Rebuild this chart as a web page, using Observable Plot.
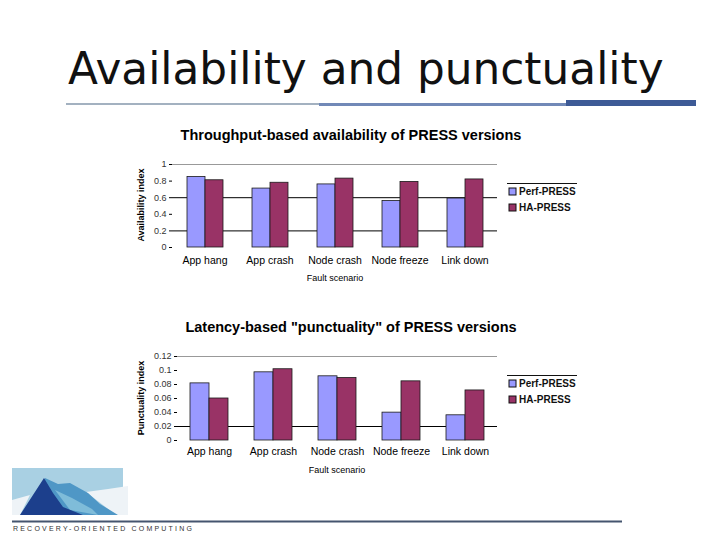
<!DOCTYPE html>
<html><head><meta charset="utf-8">
<script src="https://cdn.jsdelivr.net/npm/d3@7"></script>
<script src="https://cdn.jsdelivr.net/npm/@observablehq/plot@0.6"></script>
<style>
body{margin:0;background:#fff;}
#slide{position:relative;width:720px;height:540px;overflow:hidden;background:#fff;font-family:"Liberation Sans",Arial,sans-serif;color:#000;}
.abs{position:absolute;}
#title{left:68px;top:47px;font-family:"DejaVu Sans",sans-serif;font-size:43.8px;line-height:44px;white-space:nowrap;color:#111;}
.ctitle{left:0;width:702px;text-align:center;font-weight:bold;font-size:14.5px;line-height:16px;white-space:nowrap;}
.ylab{font-weight:bold;font-size:9px;line-height:10px;white-space:nowrap;transform:translate(-50%,-50%) rotate(-90deg);}
.xlab{font-size:9px;line-height:10px;white-space:nowrap;transform:translate(-50%,-50%);}
.legline{height:0;border-top:1.5px solid #111;width:70px;left:507px;}
.leg{left:509px;}
.leg *{font-family:"Liberation Sans",Arial,sans-serif !important;font-weight:bold !important;font-size:10px !important;line-height:15px !important;color:#111;}
.leg svg{stroke:#111;stroke-width:1px;margin-right:3px !important;}
.leg > div{margin:0 !important;}
.chart{left:0;}
</style></head><body>
<div id="slide">
  <div id="title" class="abs">Availability and punctuality</div>
  <div class="abs" style="left:66px;top:103px;width:253px;height:2px;background:#a3b1c0"></div>
  <div class="abs" style="left:319px;top:103px;width:247px;height:3px;background:#7189b7"></div>
  <div class="abs" style="left:566px;top:100px;width:130px;height:6px;background:#3d5a96"></div>

  <div class="abs ctitle" style="top:127px">Throughput-based availability of PRESS versions</div>
  <div id="c1" class="abs chart" style="top:150px"></div>
  <div class="abs ylab" style="left:141px;top:205px">Availability index</div>
  <div class="abs xlab" style="left:335px;top:278px">Fault scenario</div>
  <div class="abs legline" style="top:183px"></div>
  <div id="leg1" class="abs leg" style="top:184px"></div>

  <div class="abs ctitle" style="top:319px">Latency-based "punctuality" of PRESS versions</div>
  <div id="c2" class="abs chart" style="top:342px"></div>
  <div class="abs ylab" style="left:141px;top:398px">Punctuality index</div>
  <div class="abs xlab" style="left:337px;top:470px">Fault scenario</div>
  <div class="abs legline" style="top:375px"></div>
  <div id="leg2" class="abs leg" style="top:376px"></div>

  <svg class="abs" style="left:0;top:460px" width="720" height="80">
    <rect x="12" y="8" width="111" height="47" fill="#a9d0e3"/>
    <polygon points="12,40 30,35 20,55 12,55" fill="#eef3f7"/>
    <polygon points="86,32 108,29 128,26 128,55 116,55" fill="#eef3f7"/>
    <polygon points="45,18 58,24 70,23 88,33 100,44 118,55 32,55" fill="#4f97c6"/>
    <polygon points="55,30 72,38 92,49 98,55 70,50" fill="#7fbcd9"/>
    <polygon points="44,18 53,33 63,47 83,55 20,55" fill="#1c3f8c"/>
    <line x1="12" y1="61.5" x2="622" y2="61.5" stroke="#45556f" stroke-width="2"/>
    <text x="13" y="71" font-family="Liberation Sans, Arial, sans-serif" font-size="7" letter-spacing="2.2" fill="#333">RECOVERY-ORIENTED COMPUTING</text>
  </svg>
</div>
<script>
const categories = ["App hang", "App crash", "Node crash", "Node freeze", "Link down"];
const series = ["Perf-PRESS", "HA-PRESS"];
const seriesColors = ["#9999ff", "#993366"];

const availPerf = [0.85, 0.71, 0.76, 0.56, 0.59];
const availHA   = [0.81, 0.78, 0.83, 0.79, 0.82];
const availTicks = [0, 0.2, 0.4, 0.6, 0.8, 1];
const availGridDark = [0.2, 0.6];
const availGridLight = [1];

const punctPerf = [0.0816, 0.0974, 0.0917, 0.0398, 0.036];
const punctHA   = [0.060, 0.1018, 0.0893, 0.0845, 0.0715];
const punctTicks = [0, 0.02, 0.04, 0.06, 0.08, 0.1, 0.12];
const punctGridDark = [0.02];
const punctGridLight = [0.12];

function rows(perf, ha) {
  const out = [];
  categories.forEach((c, i) => {
    out.push({cat: c, series: series[0], value: perf[i]});
    out.push({cat: c, series: series[1], value: ha[i]});
  });
  return out;
}

function makeChart(o) {
  const innerH = o.bottom - o.top;
  return Plot.plot({
    width: 720,
    height: 14 + innerH + 40,
    marginTop: 14, marginBottom: 40,
    marginLeft: o.left, marginRight: 720 - o.right,
    style: {fontFamily: '"Liberation Sans", Arial, sans-serif', fontSize: "9px", background: "transparent", overflow: "visible"},
    fx: {domain: categories, padding: 0, label: null},
    x: {domain: series, paddingInner: 0, paddingOuter: o.po, axis: null},
    y: {domain: [0, o.ticks[o.ticks.length - 1]], label: null},
    color: {domain: series, range: seriesColors},
    marks: [
      Plot.ruleY(o.gridLight, {stroke: "#999", strokeWidth: 1}),
      Plot.ruleY(o.gridDark, {stroke: "#000", strokeWidth: 1}),
      Plot.barY(o.data, {fx: "cat", x: "series", y: "value", fill: "series", stroke: "#1a1a1a", strokeWidth: 0.8, inset: 0}),
      Plot.axisY({ticks: o.ticks, tickFormat: d3.format("~g"), tickSize: 3, tickPadding: 3, label: null, fontSize: 9, fill: "#333"}),
      Plot.axisFx({anchor: "bottom", tickSize: 0, tickPadding: o.tp, label: null, fontSize: 10.5})
    ]
  });
}

const c1 = makeChart({data: rows(availPerf, availHA), ticks: availTicks, gridDark: availGridDark, gridLight: availGridLight,
  left: 170, right: 498, top: 164, bottom: 247, po: 0.74, tp: 9});
document.getElementById("c1").appendChild(c1);
document.getElementById("leg1").appendChild(c1.legend("color", {columns: 1, swatchSize: 7}));

const c2 = makeChart({data: rows(punctPerf, punctHA), ticks: punctTicks, gridDark: punctGridDark, gridLight: punctGridLight,
  left: 176, right: 497, top: 356, bottom: 440, po: 0.63, tp: 7});
document.getElementById("c2").appendChild(c2);
document.getElementById("leg2").appendChild(c2.legend("color", {columns: 1, swatchSize: 7}));
</script>
</body></html>
